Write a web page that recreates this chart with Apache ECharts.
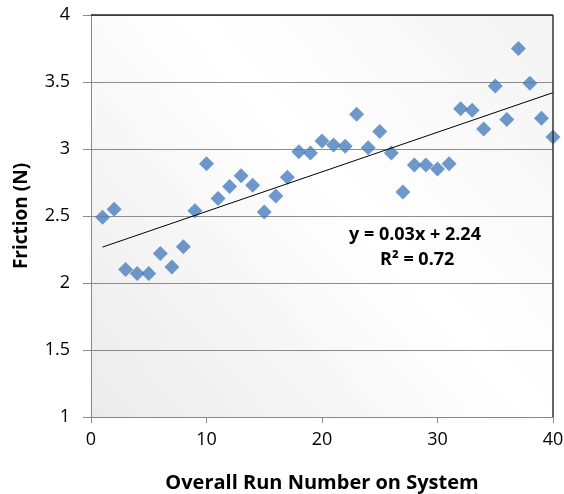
<!DOCTYPE html>
<html>
<head>
<meta charset="utf-8">
<script src="https://cdn.jsdelivr.net/npm/echarts@6/dist/echarts.min.js"></script>
<style>
  html, body { margin: 0; padding: 0; background: #fff; }
  #chart { width: 564px; height: 494px; }
</style>
</head>
<body>
<div id="chart"></div>
<script>
// Run number on the system (x) and measured friction in newtons (y)
const runNumbers = [1,2,3,4,5,6,7,8,9,10,11,12,13,14,15,16,17,18,19,20,
                    21,22,23,24,25,26,27,28,29,30,31,32,33,34,35,36,37,38,39,40];
const friction = [2.49,2.55,2.10,2.07,2.07,2.22,2.12,2.27,2.54,2.89,
                  2.63,2.72,2.80,2.73,2.53,2.65,2.79,2.98,2.97,3.06,
                  3.03,3.02,3.26,3.01,3.13,2.97,2.68,2.88,2.88,2.85,
                  2.89,3.30,3.29,3.15,3.47,3.22,3.75,3.49,3.23,3.09];
const xTicks = [0, 10, 20, 30, 40];
const yTicks = [1, 1.5, 2, 2.5, 3, 3.5, 4];
const equationText = 'y = 0.03x + 2.24';
const rSquaredText = 'R\u00b2 = 0.72';

// Least-squares linear trend through the points
function linearFit(xs, ys) {
  const n = xs.length;
  const mx = xs.reduce((a, b) => a + b, 0) / n;
  const my = ys.reduce((a, b) => a + b, 0) / n;
  let sxy = 0, sxx = 0;
  for (let i = 0; i < n; i++) {
    sxy += (xs[i] - mx) * (ys[i] - my);
    sxx += (xs[i] - mx) * (xs[i] - mx);
  }
  const slope = sxy / sxx;
  return { slope, intercept: my - slope * mx };
}
const fit = linearFit(runNumbers, friction);
const xFirst = runNumbers[0], xLast = runNumbers[runNumbers.length - 1];
const trend = [
  [xFirst, fit.intercept + fit.slope * xFirst],
  [xLast, fit.intercept + fit.slope * xLast]
];

const font = '"Open Sans", "Liberation Sans", Arial, sans-serif';
const chart = echarts.init(document.getElementById('chart'), null, { renderer: 'canvas' });

chart.setOption({
  animation: false,
  backgroundColor: '#ffffff',
  grid: {
    left: 91, right: 11, top: 15, bottom: 77,
    outerBoundsMode: 'none',
    containLabel: false,
    show: true,
    borderWidth: 0,
    backgroundColor: new echarts.graphic.LinearGradient(0, 1, 1, 0, [
      { offset: 0, color: '#ebebeb' },
      { offset: 0.55, color: '#ffffff' },
      { offset: 1, color: '#f3f3f3' }
    ])
  },
  xAxis: {
    type: 'value',
    min: xTicks[0], max: xTicks[xTicks.length - 1], interval: 10,
    name: 'Overall Run Number on System',
    nameLocation: 'middle', nameGap: 56,
    nameTextStyle: { fontFamily: font, fontSize: 20, fontWeight: 'bold', color: '#000' },
    axisLine: { show: true, lineStyle: { color: '#888', width: 1 } },
    axisTick: { show: true, inside: false, length: 6, lineStyle: { color: '#888' } },
    axisLabel: { fontFamily: font, fontSize: 18, color: '#000', margin: 14 },
    splitLine: { show: false }
  },
  yAxis: {
    type: 'value',
    min: yTicks[0], max: yTicks[yTicks.length - 1], interval: 0.5,
    name: 'Friction (N)',
    nameLocation: 'middle', nameGap: 60,
    nameTextStyle: { fontFamily: font, fontSize: 19, fontWeight: 'bold', color: '#000' },
    axisLine: { show: true, lineStyle: { color: '#888', width: 1 } },
    axisTick: { show: true, inside: false, length: 8, lineStyle: { color: '#888' } },
    axisLabel: { fontFamily: font, fontSize: 18, color: '#000', margin: 21 },
    splitLine: { show: true, lineStyle: { color: '#8c8c8c', width: 1 } }
  },
  series: [
    {
      type: 'scatter',
      data: runNumbers.map((x, i) => [x, friction[i]]),
      symbol: 'diamond',
      symbolSize: 15,
      itemStyle: { color: '#4a7ebb' },
      z: 3
    },
    {
      type: 'line',
      data: trend,
      showSymbol: false,
      symbol: 'none',
      lineStyle: { color: '#000', width: 1 },
      z: 4,
      silent: true
    }
  ],
  graphic: [
    {
      type: 'rect',
      shape: { x: 91, y: 15, width: 462, height: 0 },
      style: { stroke: '#222', lineWidth: 1, fill: null },
      z: 10
    },
    {
      type: 'rect',
      shape: { x: 553, y: 15, width: 0, height: 402 },
      style: { stroke: '#333', lineWidth: 1, fill: null },
      z: 10
    },
    {
      type: 'text',
      left: 349, top: 226,
      style: { text: equationText, fontFamily: font, fontSize: 18, fontWeight: 'bold', fill: '#000' },
      z: 10
    },
    {
      type: 'text',
      left: 380, top: 251,
      style: { text: rSquaredText, fontFamily: font, fontSize: 18, fontWeight: 'bold', fill: '#000' },
      z: 10
    }
  ]
});
</script>
</body>
</html>
